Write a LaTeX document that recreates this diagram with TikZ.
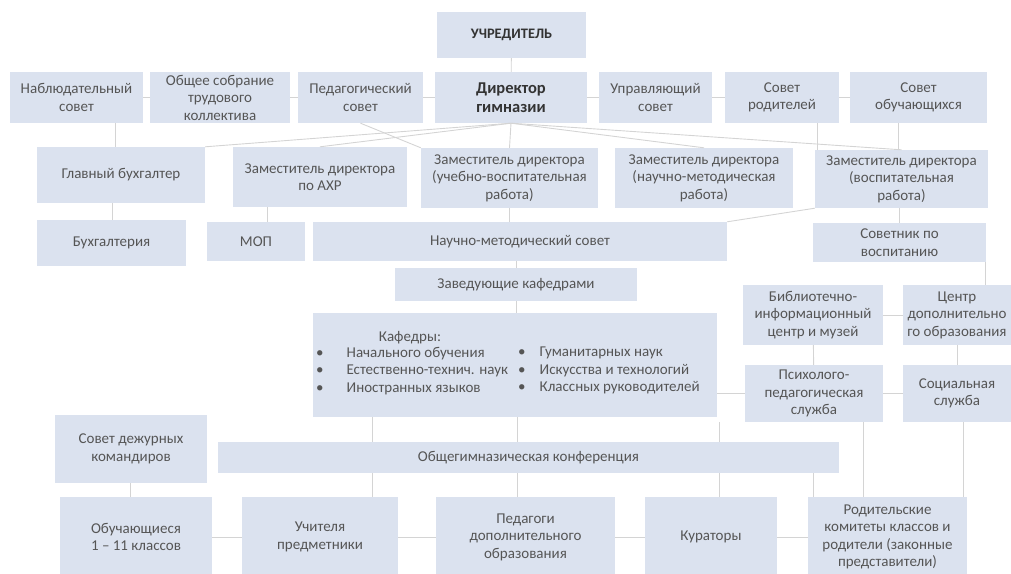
\documentclass[tikz,border=0pt]{standalone}
\usepackage{fontspec}
\setmainfont{Carlito}
\definecolor{boxfill}{RGB}{219,226,239}
\definecolor{txtcol}{RGB}{85,85,85}
\definecolor{linecol}{RGB}{212,212,212}
\tikzset{
  box/.style={fill=boxfill, text=txtcol, align=center, inner sep=1pt, font=\fontsize{15}{17.5}\selectfont},
  boldbox/.style={box, text=black!80, font=\bfseries\fontsize{16.5}{19.5}\selectfont},
  conn/.style={draw=linecol, line width=0.9pt}
}
\begin{document}
\begin{tikzpicture}[x=1pt,y=-1pt]
		\useasboundingbox (0,0) rectangle (1011,573); % Fix the page size

		% Top of the chart
		\node[boldbox, font=\bfseries\fontsize{14.5}{17}\selectfont, minimum width=149pt, minimum height=46pt] (uchr) at (511.5,35) {УЧРЕДИТЕЛЬ};
		\node[box, minimum width=133pt, minimum height=51pt] (nabl) at (76.5,97.5) {Наблюдательный\\совет};
		\node[box, minimum width=140pt, minimum height=51pt] (obsh) at (220,97.5) {Общее собрание\\трудового\\коллектива};
		\node[box, minimum width=125pt, minimum height=51pt] (pedsov) at (360.5,97.5) {Педагогический\\совет};
		\node[boldbox, minimum width=152pt, minimum height=51pt] (dir) at (511,97.5) {Директор\\гимназии};
		\node[box, minimum width=113pt, minimum height=51pt] (upr) at (655.5,97.5) {Управляющий\\совет};
		\node[box, minimum width=114pt, minimum height=51pt] (sovrod) at (782,97.5) {Совет\\родителей};
		\node[box, minimum width=137pt, minimum height=51pt] (sovob) at (918.5,97.5) {Совет\\обучающихся};

		% Deputies
		\node[box, minimum width=168pt, minimum height=56pt] (glbuh) at (121,175) {Главный бухгалтер};
		\node[box, minimum width=174pt, minimum height=60pt] (zamahr) at (320,177) {Заместитель директора\\по АХР};
		\node[box, minimum width=177pt, minimum height=60pt] (zamuvr) at (509.5,178) {Заместитель директора\\(учебно-воспитательная\\работа)};
		\node[box, minimum width=178pt, minimum height=60pt] (zamnmr) at (704,178) {Заместитель директора\\(научно-методическая\\работа)};
		\node[box, minimum width=173pt, minimum height=58pt] (zamvr) at (901.5,179) {Заместитель директора\\(воспитательная\\работа)};

		\node[box, minimum width=149pt, minimum height=46pt] (buh) at (111.5,243) {Бухгалтерия};
		\node[box, minimum width=98pt, minimum height=39pt] (mop) at (256,241.5) {МОП};
		\node[box, minimum width=414pt, minimum height=39pt] (nms) at (520,241.5) {Научно-методический совет};
		\node[box, minimum width=173pt, minimum height=39pt] (sovetnik) at (899.5,242.5) {Советник по\\воспитанию};
		\node[box, minimum width=242pt, minimum height=33pt] (zavkaf) at (516,284.5) {Заведующие кафедрами};

		% Departments and services
		\node[box, minimum width=404pt, minimum height=104pt] (kaf) at (515,365) {};
		\node[box, fill=none] (kafttl) at (410,338) {Кафедры:};
		\node[box, fill=none, anchor=north west, align=left] (kafl) at (315,346) {\textbullet\hspace{23pt}Начального обучения\\\textbullet\hspace{23pt}Естественно-технич. наук\\\textbullet\hspace{23pt}Иностранных языков};
		\node[box, fill=none, anchor=north west, align=left] (kafr) at (517,346) {\textbullet\hspace{14pt}Гуманитарных наук\\\textbullet\hspace{14pt}Искусства и технологий\\\textbullet\hspace{14pt}Классных руководителей};
		\node[box, minimum width=140pt, minimum height=60pt] (bic) at (813,315) {Библиотечно-\\информационный\\центр и музей};
		\node[box, minimum width=108pt, minimum height=60pt] (cdo) at (957,315) {Центр\\дополнительно\\го образования};
		\node[box, minimum width=138pt, minimum height=57pt] (psych) at (814,393.5) {Психолого-\\педагогическая\\служба};
		\node[box, minimum width=108pt, minimum height=57pt] (soc) at (957,393.5) {Социальная\\служба};

		\node[box, minimum width=152pt, minimum height=68pt] (dezh) at (131,449) {Совет дежурных\\командиров};
		\node[box, minimum width=621pt, minimum height=31pt] (conf) at (528.5,457.5) {Общегимназическая конференция};

		% Bottom row
		\node[box, minimum width=152pt, minimum height=80pt] (uch) at (136,537) {Обучающиеся\\1 -- 11 классов};
		\node[box, minimum width=156pt, minimum height=80pt] (ucht) at (320,537) {Учителя\\предметники};
		\node[box, minimum width=179pt, minimum height=80pt] (pdo) at (525.5,537) {Педагоги\\дополнительного\\образования};
		\node[box, minimum width=132pt, minimum height=80pt] (kur) at (711,537) {Кураторы};
		\node[box, minimum width=159pt, minimum height=80pt] (rod) at (887.5,537) {Родительские\\комитеты классов и\\родители (законные\\представители)};

		% Connectors
		\draw[conn] (uchr) -- (dir);
		\draw[conn] (nabl) -- (obsh) -- (pedsov) -- (dir) -- (upr) -- (sovrod) -- (sovob);
		\foreach \n in {zamahr,zamuvr,zamnmr,zamvr} \draw[conn] (dir.south) -- (\n.north);
		\draw[conn] (dir.south) -- (glbuh.north east);
		\draw[conn] (pedsov.south) -- (zamuvr.north west);
		\draw[conn] (115,0 |- nabl.south) -- (115,0 |- glbuh.north);
		\draw[conn] (817,0 |- sovrod.south) -- (817,0 |- zamvr.north);
		\draw[conn] (898,0 |- sovob.south) -- (898,0 |- zamvr.north);
		\draw[conn] (112,0 |- glbuh.south) -- (112,0 |- buh.north);
		\draw[conn] (267,0 |- zamahr.south) -- (267,0 |- mop.north);
		\draw[conn] (zamuvr.south) -- (zamuvr.south |- nms.north);
		\draw[conn] (zavkaf.north |- nms.south) -- (zavkaf.north);
		\draw[conn] (zavkaf.south) -- (zavkaf.south |- kaf.north);
		\draw[conn] (sovetnik.north |- zamvr.south) -- (sovetnik.north);
		\draw[conn] (nms.north east) -- (zamvr.south west);
		\draw[conn] (985,0 |- sovetnik.south) -- (985,0 |- cdo.north);
		\draw[conn] (bic) -- (cdo);
		\draw[conn] (bic) -- (psych);
		\draw[conn] (cdo) -- (soc);
		\draw[conn] (psych.west -| kaf.east) -- (psych.west);
		\draw[conn] (psych) -- (soc);
		\foreach \x in {372,517} \draw[conn] (\x,0 |- kaf.south) -- (\x,0 |- conf.north);
		\draw[conn] (719,0 |- psych.south) -- (719,0 |- conf.north);
		\foreach \x in {372,517,719,813} \draw[conn] (\x,0 |- conf.south) -- (\x,0 |- uch.north);
		\draw[conn] (863,0 |- psych.south) -- (863,0 |- rod.north);
		\draw[conn] (963,0 |- soc.south) -- (963,0 |- rod.north);
		\draw[conn] (130,0 |- dezh.south) -- (130,0 |- uch.north);
		\draw[conn] (uch) -- (ucht) -- (pdo) -- (kur) -- (rod);
	\end{tikzpicture}
\end{document}
